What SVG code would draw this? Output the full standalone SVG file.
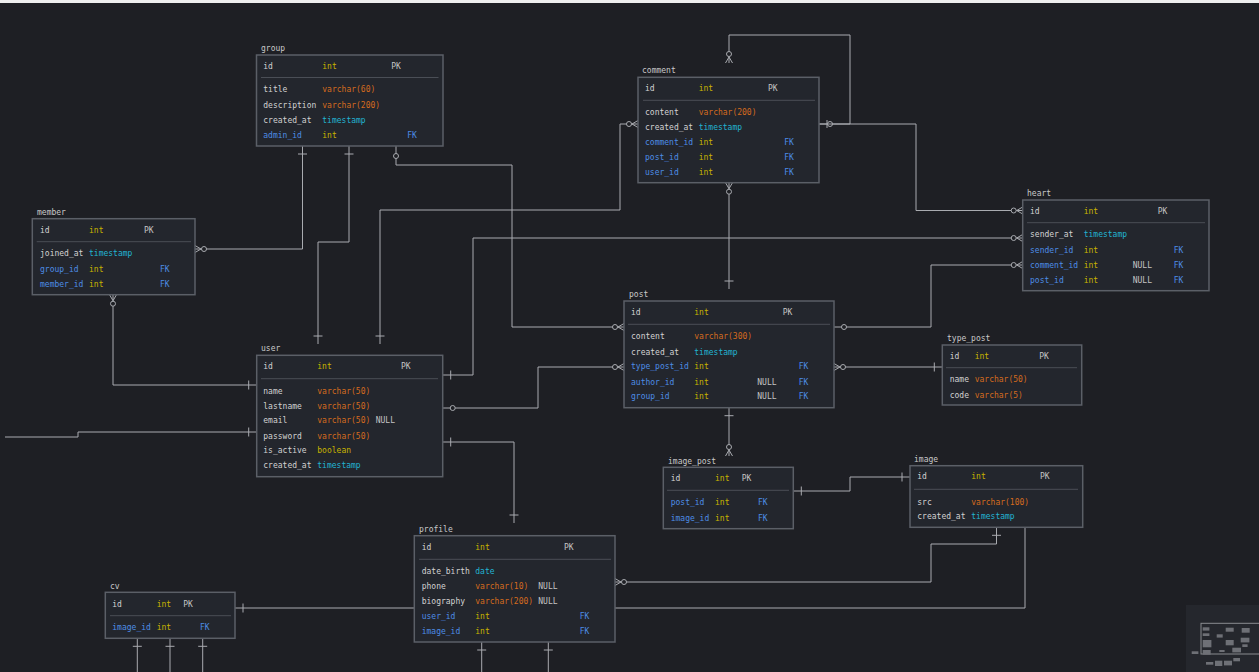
<svg xmlns="http://www.w3.org/2000/svg" width="1259" height="672" viewBox="0 0 1259 672">
<style>
.bg{fill:#1e1f24}
.t{fill:#23262d;stroke:#5b5f67;stroke-width:1.5}
.sep{stroke:#4a4e56;stroke-width:1}
text{font-family:"DejaVu Sans Mono","Liberation Mono",monospace;font-size:8px}
.lbl{fill:#c9c9c9}
.n{fill:#d2d2d2}
.f{fill:#4d8de6}
.i{fill:#c8b400}
.v{fill:#d56b1e}
.c{fill:#22b4d2}
.k{fill:#c4c4c4}
.cn path{fill:none;stroke:#a9abb0;stroke-width:1}
.mk{fill:none;stroke:#a9abb0;stroke-width:1}
.mc{fill:#1e1f24;stroke:#a9abb0;stroke-width:1}
.mm{fill:#6e7076}
</style>
<defs>
<marker id="one" viewBox="0 0 24 16" markerWidth="24" markerHeight="16" refX="24" refY="8" markerUnits="userSpaceOnUse" orient="auto-start-reverse"><path class="mk" d="M16,3.5V12.5"/></marker>
<marker id="many0" viewBox="0 0 24 16" markerWidth="24" markerHeight="16" refX="24" refY="8" markerUnits="userSpaceOnUse" orient="auto-start-reverse"><path class="mk" d="M18,8L24,4.5M18,8L24,11.5"/><circle class="mc" cx="15" cy="8" r="2.5"/></marker>
<marker id="zero" viewBox="0 0 24 16" markerWidth="24" markerHeight="16" refX="24" refY="8" markerUnits="userSpaceOnUse" orient="auto-start-reverse"><circle class="mc" cx="14" cy="8" r="2.5"/></marker>
<marker id="zeroone" viewBox="0 0 24 16" markerWidth="24" markerHeight="16" refX="24" refY="8" markerUnits="userSpaceOnUse" orient="auto-start-reverse"><path class="mk" d="M16,4V12"/><circle class="mc" cx="13" cy="8" r="2.5"/></marker>
</defs>
<rect class="bg" x="0" y="0" width="1259" height="672"/>
<rect x="0" y="0" width="1259" height="3" fill="#eeeeee"/>
<g id="connectors" class="cn">
<path d="M819,124H850V35H729V63" marker-start="url(#zeroone)" marker-end="url(#many0)"/>
<path d="M819,124H916V210.5H1022.7" marker-end="url(#many0)"/>
<path d="M442.7,375H473V238H1022.7" marker-start="url(#one)" marker-end="url(#many0)"/>
<path d="M834,327H931V265H1022.7" marker-start="url(#zero)" marker-end="url(#many0)"/>
<path d="M638,124H620V210H380V344" marker-start="url(#many0)" marker-end="url(#one)"/>
<path d="M729,182.7V289" marker-start="url(#many0)" marker-end="url(#one)"/>
<path d="M302.5,146V249H195" marker-start="url(#one)" marker-end="url(#many0)"/>
<path d="M349,146V242H318V344" marker-start="url(#one)" marker-end="url(#one)"/>
<path d="M396,146V165H512V327H624" marker-start="url(#zero)" marker-end="url(#many0)"/>
<path d="M113,294.7V385H256.7" marker-start="url(#many0)" marker-end="url(#one)"/>
<path d="M5,437H78V432H256.7" marker-end="url(#one)"/>
<path d="M442.7,408H538V367H624" marker-start="url(#zero)" marker-end="url(#many0)"/>
<path d="M442.7,442H514V523" marker-start="url(#one)" marker-end="url(#one)"/>
<path d="M834,367H942.3" marker-start="url(#many0)" marker-end="url(#one)"/>
<path d="M729,407.7V456" marker-start="url(#one)" marker-end="url(#many0)"/>
<path d="M793.3,491H850V477H910" marker-start="url(#one)" marker-end="url(#one)"/>
<path d="M996.5,527.3V544H931V582H615" marker-start="url(#one)" marker-end="url(#many0)"/>
<path d="M235,608H1025V527.3" marker-start="url(#one)"/>
<path d="M481.7,642V680" marker-start="url(#one)"/>
<path d="M548.3,642V680" marker-start="url(#one)"/>
<path d="M137.3,638.3V680" marker-start="url(#one)"/>
<path d="M170,638.3V680" marker-start="url(#one)"/>
<path d="M202.7,638.3V680" marker-start="url(#one)"/>
</g>
<g id="group">
<text class="lbl" x="261" y="51">group</text>
<rect class="t" x="256.5" y="55" width="186.5" height="91"/>
<line class="sep" x1="261" y1="77.5" x2="438.5" y2="77.5"/>
<text class="n" x="263.3" y="69">id</text><text class="i" x="322.3" y="69">int</text><text class="k" x="391.3" y="69">PK</text>
<text class="n" x="263.3" y="92.3">title</text><text class="v" x="322.3" y="92.3">varchar(60)</text>
<text class="n" x="263.3" y="108">description</text><text class="v" x="322.3" y="108">varchar(200)</text>
<text class="n" x="263.3" y="123">created_at</text><text class="c" x="322.3" y="123">timestamp</text>
<text class="f" x="263.3" y="137.7">admin_id</text><text class="i" x="322.3" y="137.7">int</text><text class="f" x="407.3" y="137.7">FK</text>
</g>
<g id="comment">
<text class="lbl" x="642" y="73">comment</text>
<rect class="t" x="638" y="77.3" width="181" height="105.4"/>
<line class="sep" x1="643" y1="100.3" x2="815" y2="100.3"/>
<text class="n" x="645" y="90.7">id</text><text class="i" x="698.7" y="90.7">int</text><text class="k" x="768" y="90.7">PK</text>
<text class="n" x="645" y="115.3">content</text><text class="v" x="698.7" y="115.3">varchar(200)</text>
<text class="n" x="645" y="129.7">created_at</text><text class="c" x="698.7" y="129.7">timestamp</text>
<text class="f" x="645" y="145">comment_id</text><text class="i" x="698.7" y="145">int</text><text class="f" x="784.3" y="145">FK</text>
<text class="f" x="645" y="160.3">post_id</text><text class="i" x="698.7" y="160.3">int</text><text class="f" x="784.3" y="160.3">FK</text>
<text class="f" x="645" y="175">user_id</text><text class="i" x="698.7" y="175">int</text><text class="f" x="784.3" y="175">FK</text>
</g>
<g id="member">
<text class="lbl" x="37" y="214.7">member</text>
<rect class="t" x="32.3" y="218.7" width="162.7" height="76"/>
<line class="sep" x1="36.7" y1="241.7" x2="191" y2="241.7"/>
<text class="n" x="40" y="233">id</text><text class="i" x="89" y="233">int</text><text class="k" x="144" y="233">PK</text>
<text class="n" x="40" y="256">joined_at</text><text class="c" x="89" y="256">timestamp</text>
<text class="f" x="40" y="271.7">group_id</text><text class="i" x="89" y="271.7">int</text><text class="f" x="160" y="271.7">FK</text>
<text class="f" x="40" y="286.7">member_id</text><text class="i" x="89" y="286.7">int</text><text class="f" x="160" y="286.7">FK</text>
</g>
<g id="heart">
<text class="lbl" x="1027" y="196.3">heart</text>
<rect class="t" x="1022.7" y="200" width="186.3" height="90.7"/>
<line class="sep" x1="1027" y1="222.7" x2="1205" y2="222.7"/>
<text class="n" x="1030" y="213.7">id</text><text class="i" x="1083.7" y="213.7">int</text><text class="k" x="1157.7" y="213.7">PK</text>
<text class="n" x="1030" y="237.3">sender_at</text><text class="c" x="1083.7" y="237.3">timestamp</text>
<text class="f" x="1030" y="253">sender_id</text><text class="i" x="1083.7" y="253">int</text><text class="f" x="1173.7" y="253">FK</text>
<text class="f" x="1030" y="267.7">comment_id</text><text class="i" x="1083.7" y="267.7">int</text><text class="k" x="1132.7" y="267.7">NULL</text><text class="f" x="1173.7" y="267.7">FK</text>
<text class="f" x="1030" y="283">post_id</text><text class="i" x="1083.7" y="283">int</text><text class="k" x="1132.7" y="283">NULL</text><text class="f" x="1173.7" y="283">FK</text>
</g>
<g id="post">
<text class="lbl" x="629" y="297.3">post</text>
<rect class="t" x="624" y="301" width="210" height="106.7"/>
<line class="sep" x1="628" y1="324.3" x2="830" y2="324.3"/>
<text class="n" x="631" y="315">id</text><text class="i" x="694.3" y="315">int</text><text class="k" x="782.7" y="315">PK</text>
<text class="n" x="631" y="339.3">content</text><text class="v" x="694.3" y="339.3">varchar(300)</text>
<text class="n" x="631" y="354.7">created_at</text><text class="c" x="694.3" y="354.7">timestamp</text>
<text class="f" x="631" y="369">type_post_id</text><text class="i" x="694.3" y="369">int</text><text class="f" x="798.7" y="369">FK</text>
<text class="f" x="631" y="384.7">author_id</text><text class="i" x="694.3" y="384.7">int</text><text class="k" x="757.3" y="384.7">NULL</text><text class="f" x="798.7" y="384.7">FK</text>
<text class="f" x="631" y="398.7">group_id</text><text class="i" x="694.3" y="398.7">int</text><text class="k" x="757.3" y="398.7">NULL</text><text class="f" x="798.7" y="398.7">FK</text>
</g>
<g id="user">
<text class="lbl" x="261" y="351.3">user</text>
<rect class="t" x="256.7" y="355.3" width="186" height="121.4"/>
<line class="sep" x1="261" y1="378.7" x2="438" y2="378.7"/>
<text class="n" x="263.3" y="369">id</text><text class="i" x="317.3" y="369">int</text><text class="k" x="401" y="369">PK</text>
<text class="n" x="263.3" y="393.7">name</text><text class="v" x="317.3" y="393.7">varchar(50)</text>
<text class="n" x="263.3" y="408.7">lastname</text><text class="v" x="317.3" y="408.7">varchar(50)</text>
<text class="n" x="263.3" y="423.3">email</text><text class="v" x="317.3" y="423.3">varchar(50)</text><text class="k" x="375.7" y="423.3">NULL</text>
<text class="n" x="263.3" y="438.7">password</text><text class="v" x="317.3" y="438.7">varchar(50)</text>
<text class="n" x="263.3" y="453">is_active</text><text class="i" x="317.3" y="453">boolean</text>
<text class="n" x="263.3" y="468.3">created_at</text><text class="c" x="317.3" y="468.3">timestamp</text>
</g>
<g id="type_post">
<text class="lbl" x="947" y="340.7">type_post</text>
<rect class="t" x="942.3" y="345" width="139.4" height="60"/>
<line class="sep" x1="946" y1="367.7" x2="1077" y2="367.7"/>
<text class="n" x="949.7" y="359">id</text><text class="i" x="974.7" y="359">int</text><text class="k" x="1039.3" y="359">PK</text>
<text class="n" x="949.7" y="382.3">name</text><text class="v" x="974.7" y="382.3">varchar(50)</text>
<text class="n" x="949.7" y="398">code</text><text class="v" x="974.7" y="398">varchar(5)</text>
</g>
<g id="image_post">
<text class="lbl" x="668" y="463.7">image_post</text>
<rect class="t" x="663.3" y="467.3" width="130" height="61.4"/>
<line class="sep" x1="667" y1="490.3" x2="789" y2="490.3"/>
<text class="n" x="670.7" y="481.3">id</text><text class="i" x="715" y="481.3">int</text><text class="k" x="741.7" y="481.3">PK</text>
<text class="f" x="670.7" y="505.3">post_id</text><text class="i" x="715" y="505.3">int</text><text class="f" x="758" y="505.3">FK</text>
<text class="f" x="670.7" y="521.3">image_id</text><text class="i" x="715" y="521.3">int</text><text class="f" x="758" y="521.3">FK</text>
</g>
<g id="image">
<text class="lbl" x="914" y="462">image</text>
<rect class="t" x="910" y="465.7" width="172.7" height="61.6"/>
<line class="sep" x1="914" y1="489.3" x2="1078" y2="489.3"/>
<text class="n" x="917.3" y="479.3">id</text><text class="i" x="971.3" y="479.3">int</text><text class="k" x="1040" y="479.3">PK</text>
<text class="n" x="917.3" y="504.7">src</text><text class="v" x="971.3" y="504.7">varchar(100)</text>
<text class="n" x="917.3" y="518.7">created_at</text><text class="c" x="971.3" y="518.7">timestamp</text>
</g>
<g id="profile">
<text class="lbl" x="419" y="532">profile</text>
<rect class="t" x="414.3" y="535.7" width="200.7" height="106.3"/>
<line class="sep" x1="419" y1="559.3" x2="611" y2="559.3"/>
<text class="n" x="421.7" y="549.7">id</text><text class="i" x="475.3" y="549.7">int</text><text class="k" x="564" y="549.7">PK</text>
<text class="n" x="421.7" y="574">date_birth</text><text class="c" x="475.3" y="574">date</text>
<text class="n" x="421.7" y="589.3">phone</text><text class="v" x="475.3" y="589.3">varchar(10)</text><text class="k" x="538.3" y="589.3">NULL</text>
<text class="n" x="421.7" y="604">biography</text><text class="v" x="475.3" y="604">varchar(200)</text><text class="k" x="538.3" y="604">NULL</text>
<text class="f" x="421.7" y="619">user_id</text><text class="i" x="475.3" y="619">int</text><text class="f" x="579.7" y="619">FK</text>
<text class="f" x="421.7" y="633.7">image_id</text><text class="i" x="475.3" y="633.7">int</text><text class="f" x="579.7" y="633.7">FK</text>
</g>
<g id="cv">
<text class="lbl" x="110" y="589">cv</text>
<rect class="t" x="105.3" y="592.3" width="129.7" height="46"/>
<line class="sep" x1="110" y1="615.7" x2="231" y2="615.7"/>
<text class="n" x="112.3" y="607">id</text><text class="i" x="156.7" y="607">int</text><text class="k" x="183.3" y="607">PK</text>
<text class="f" x="112.3" y="630.3">image_id</text><text class="i" x="156.7" y="630.3">int</text><text class="f" x="200" y="630.3">FK</text>
</g>
<g id="minimap">
<rect x="1186" y="605" width="73" height="67" fill="#25272d"/>
<rect x="1201" y="623.3" width="60" height="30.7" fill="none" stroke="#8a8c90" stroke-width="1"/>
<rect class="mm" x="1202.7" y="627.3" width="6.7" height="3.3"/>
<rect class="mm" x="1202.7" y="633.3" width="6.7" height="2.7"/>
<rect class="mm" x="1202.7" y="640" width="8.7" height="7.3"/>
<rect class="mm" x="1216.7" y="634.3" width="6" height="3.3"/>
<rect class="mm" x="1225.7" y="627.7" width="8" height="4"/>
<rect class="mm" x="1225.7" y="640" width="8" height="5.3"/>
<rect class="mm" x="1219.3" y="650" width="5.3" height="2"/>
<rect class="mm" x="1232.3" y="647.7" width="8.7" height="4.7"/>
<rect class="mm" x="1241.7" y="628" width="8" height="4.7"/>
<rect class="mm" x="1240.7" y="637.7" width="8.7" height="4.7"/>
<rect class="mm" x="1242.3" y="644.3" width="5.3" height="2.7"/>
<rect class="mm" x="1202.7" y="650" width="8" height="4.7"/>
<rect class="mm" x="1191.7" y="651.3" width="6.7" height="2.7"/>
<rect class="mm" x="1206" y="662" width="7.3" height="2.7"/>
<rect class="mm" x="1215" y="660.7" width="7.3" height="5.3"/>
<rect class="mm" x="1224" y="660.7" width="8" height="4.7"/>
<rect class="mm" x="1233.3" y="658" width="6.7" height="3.3"/>
</g>
</svg>
